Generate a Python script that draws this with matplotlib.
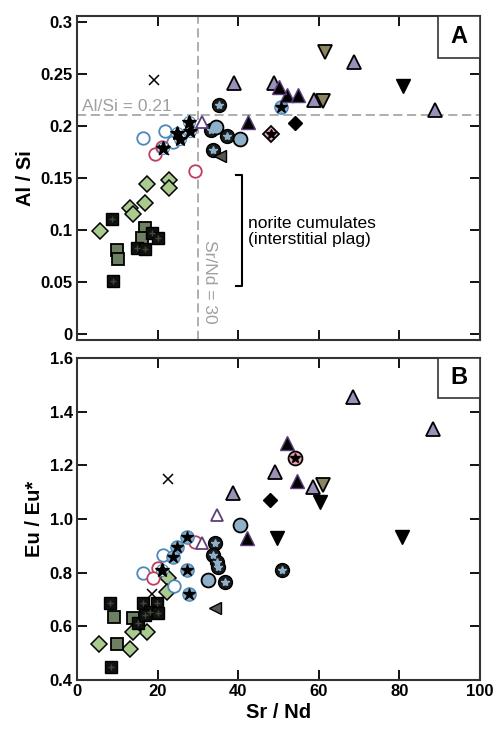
import matplotlib
matplotlib.use("Agg")
import matplotlib.pyplot as plt
from matplotlib.patches import Rectangle
from matplotlib.ticker import FixedLocator, FixedFormatter

plt.rcParams['font.family'] = ['Liberation Sans', 'DejaVu Sans']

# ---------------- Panel A data (Sr/Nd vs Al/Si) ----------------
A_blue_open_x = [16.4, 21.8, 23.8]
A_blue_open_y = [0.188, 0.195, 0.185]
A_red_open_x = [19.4, 21.0, 29.3]
A_red_open_y = [0.173, 0.180, 0.157]
A_cross_x = [19.1, 21.6]
A_cross_y = [0.244, 0.177]
A_black_star_x = [24.7, 25.6, 28.0, 27.9, 21.4]
A_black_star_y = [0.193, 0.187, 0.195, 0.204, 0.179]
A_blue_star_x = [50.5]
A_blue_star_y = [0.218]
A_dark_circle_x = [35.3, 33.2, 37.2, 33.8]
A_dark_circle_y = [0.220, 0.196, 0.190, 0.177]
A_lightblue_x = [40.4, 34.5]
A_lightblue_y = [0.187, 0.199]
A_purple_tri_x = [39.0, 48.9, 68.7, 58.8, 88.8]
A_purple_tri_y = [0.241, 0.241, 0.261, 0.225, 0.215]
A_purple_open_x = [31.0]
A_purple_open_y = [0.204]
A_black_tri_x = [42.5, 52.2, 54.9, 50.2]
A_black_tri_y = [0.204, 0.230, 0.230, 0.237]
A_olive_dtri_x = [61.5, 61.0]
A_olive_dtri_y = [0.271, 0.224]
A_black_dtri_x = [80.8]
A_black_dtri_y = [0.238]
A_green_dia_x = [17.3, 22.9, 22.9, 16.9, 13.2, 14.0, 5.7]
A_green_dia_y = [0.144, 0.148, 0.140, 0.126, 0.121, 0.115, 0.099]
A_dkgreen_sq_x = [9.9, 10.2, 16.9, 16.1]
A_dkgreen_sq_y = [0.081, 0.072, 0.102, 0.092]
A_black_sq_x = [8.7, 8.9, 18.6, 20.1, 14.8, 16.9]
A_black_sq_y = [0.111, 0.051, 0.0975, 0.092, 0.083, 0.082]
A_black_dia_x = [54.1]
A_black_dia_y = [0.203]
A_pink_dia_x = [48.1]
A_pink_dia_y = [0.192]
A_gray_ltri_x = [35.5]
A_gray_ltri_y = [0.171]

# ---------------- Panel B data (Sr/Nd vs Eu/Eu*) ----------------
B_blue_open_x = [21.4, 16.4, 24.1]
B_blue_open_y = [0.866, 0.800, 0.750]
B_red_open_x = [29.3, 20.1, 18.9]
B_red_open_y = [0.915, 0.817, 0.780]
B_cross_x = [22.5, 18.6]
B_cross_y = [1.149, 0.720]
B_black_star_x = [21.1]
B_black_star_y = [0.810]
B_blue_star_x = [27.3, 24.8, 23.8, 27.3, 27.8]
B_blue_star_y = [0.933, 0.896, 0.858, 0.810, 0.720]
B_dark_circle_x = [34.2, 33.7, 34.7, 35.0, 36.7, 50.9]
B_dark_circle_y = [0.910, 0.866, 0.840, 0.820, 0.766, 0.810]
B_lightblue_x = [40.4, 32.5]
B_lightblue_y = [0.978, 0.772]
B_purple_tri_x = [68.5, 88.4, 49.1, 58.6, 38.8]
B_purple_tri_y = [1.455, 1.335, 1.175, 1.120, 1.096]
B_purple_open_x = [34.7, 31.0]
B_purple_open_y = [1.015, 0.909]
B_black_tri_x = [52.1, 54.6, 42.1]
B_black_tri_y = [1.283, 1.142, 0.929]
B_olive_dtri_x = [61.0]
B_olive_dtri_y = [1.127]
B_black_dtri_x = [60.3, 49.6, 80.6]
B_black_dtri_y = [1.063, 0.929, 0.933]
B_green_dia_x = [22.6, 22.3, 17.3, 14.0, 13.2, 5.5]
B_green_dia_y = [0.780, 0.728, 0.579, 0.579, 0.515, 0.534]
B_dkgreen_sq_x = [9.2, 9.9, 13.9]
B_dkgreen_sq_y = [0.635, 0.534, 0.631]
B_black_sq_x = [8.2, 8.4, 16.4, 19.8, 18.1, 15.1, 16.9, 20.1]
B_black_sq_y = [0.687, 0.448, 0.687, 0.687, 0.653, 0.612, 0.642, 0.649]
B_black_dia_x = [47.9]
B_black_dia_y = [1.071]
B_pink_circle_x = [54.1]
B_pink_circle_y = [1.227]
B_gray_ltri_x = [34.2]
B_gray_ltri_y = [0.668]

# Axis settings
x_ticks = [0, 20, 40, 60, 80, 100]
x_labels = ['0', '20', '40', '60', '80', '100']
A_yticks = [0, 0.05, 0.1, 0.15, 0.2, 0.25, 0.3]
A_ylabels = ['0', '0.05', '0.1', '0.15', '0.2', '0.25', '0.3']
B_yticks = [0.4, 0.6, 0.8, 1.0, 1.2, 1.4, 1.6]
B_ylabels = ['0.4', '0.6', '0.8', '1.0', '1.2', '1.4', '1.6']
alsi_ref = 0.21
srnd_ref = 30

BLUE = '#4f88b8'
RED = '#c23c5c'
PURPLE = '#9d90b8'
PURPLE_E = '#5e3f7e'
OLIVE = '#8b8462'
GREEN = '#a9cc8e'
DKGREEN = '#6f8062'
LBLUE = '#8fb0c9'

fig = plt.figure(figsize=(4.95, 7.33), dpi=100)
axA = fig.add_axes([0.1556, 0.5362, 0.8141, 0.4420])
axB = fig.add_axes([0.1556, 0.0723, 0.8141, 0.4393])


def draw(ax, d):
    kw = dict(linestyle='none', zorder=3)
    ax.plot(d['green_dia'][0], d['green_dia'][1], marker='D', ms=8.5, mfc=GREEN, mec='black', mew=1.1, **kw)
    ax.plot(d['dkgreen_sq'][0], d['dkgreen_sq'][1], marker='s', ms=9, mfc=DKGREEN, mec='black', mew=1.3, **kw)
    ax.plot(d['black_sq'][0], d['black_sq'][1], marker='s', ms=9, mfc='#111111', mec='black', mew=1.0, **kw)
    ax.plot(d['black_sq'][0], d['black_sq'][1], marker='+', ms=5, mec='#3f4a36', mew=1.0, linestyle='none', zorder=4)
    ax.plot(d['blue_open'][0], d['blue_open'][1], marker='o', ms=9, mfc='white', mec=BLUE, mew=1.3, **kw)
    ax.plot(d['red_open'][0], d['red_open'][1], marker='o', ms=9, mfc='white', mec=RED, mew=1.3, **kw)
    ax.plot(d['blue_star'][0], d['blue_star'][1], marker='o', ms=9.5, mfc=LBLUE, mec=BLUE, mew=1.0, **kw)
    ax.plot(d['blue_star'][0], d['blue_star'][1], marker='*', ms=9, color='black', linestyle='none', zorder=4)
    ax.plot(d['black_star'][0], d['black_star'][1], marker='o', ms=8.5, mfc='white', mec=BLUE, mew=0.8, **kw)
    ax.plot(d['black_star'][0], d['black_star'][1], marker='*', ms=10.5, color='black', linestyle='none', zorder=4)
    ax.plot(d['dark_circle'][0], d['dark_circle'][1], marker='o', ms=10, mfc='#1a1a1a', mec='black', mew=1.0, **kw)
    ax.plot(d['dark_circle'][0], d['dark_circle'][1], marker='*', ms=6, color=LBLUE, linestyle='none', zorder=4)
    ax.plot(d['lightblue'][0], d['lightblue'][1], marker='o', ms=10, mfc=LBLUE, mec='black', mew=1.3, **kw)
    ax.plot(d['purple_open'][0], d['purple_open'][1], marker='^', ms=8.5, mfc='white', mec=PURPLE_E, mew=1.3, **kw)
    ax.plot(d['purple_tri'][0], d['purple_tri'][1], marker='^', ms=9.5, mfc=PURPLE, mec='black', mew=1.3, **kw)
    ax.plot(d['black_tri'][0], d['black_tri'][1], marker='^', ms=9.5, mfc='black', mec=PURPLE_E, mew=1.0, **kw)
    ax.plot(d['olive_dtri'][0], d['olive_dtri'][1], marker='v', ms=9.5, mfc=OLIVE, mec='black', mew=1.3, **kw)
    ax.plot(d['black_dtri'][0], d['black_dtri'][1], marker='v', ms=9.5, mfc='black', mec='black', mew=1.0, **kw)
    ax.plot(d['black_dia'][0], d['black_dia'][1], marker='D', ms=7.5, mfc='black', mec='black', mew=1.0, **kw)
    if 'pink_dia' in d:
        ax.plot(d['pink_dia'][0], d['pink_dia'][1], marker='D', ms=8, mfc='#e6a3b3', mec='black', mew=1.3, **kw)
        ax.plot(d['pink_dia'][0], d['pink_dia'][1], marker='*', ms=7, color='black', linestyle='none', zorder=4)
    if 'pink_circle' in d:
        ax.plot(d['pink_circle'][0], d['pink_circle'][1], marker='o', ms=10, mfc='#e6a3b3', mec='black', mew=1.3, **kw)
        ax.plot(d['pink_circle'][0], d['pink_circle'][1], marker='*', ms=7, color='black', linestyle='none', zorder=4)
    ax.plot(d['gray_ltri'][0], d['gray_ltri'][1], marker='<', ms=9, mfc='#555555', mec='black', mew=1.0, **kw)
    ax.plot(d['cross'][0], d['cross'][1], marker='x', ms=6.5, mec='black', mew=1.1, linestyle='none', zorder=5)


dataA = {
    'blue_open': (A_blue_open_x, A_blue_open_y), 'red_open': (A_red_open_x, A_red_open_y),
    'cross': (A_cross_x, A_cross_y), 'black_star': (A_black_star_x, A_black_star_y),
    'blue_star': (A_blue_star_x, A_blue_star_y), 'dark_circle': (A_dark_circle_x, A_dark_circle_y),
    'lightblue': (A_lightblue_x, A_lightblue_y), 'purple_tri': (A_purple_tri_x, A_purple_tri_y),
    'purple_open': (A_purple_open_x, A_purple_open_y), 'black_tri': (A_black_tri_x, A_black_tri_y),
    'olive_dtri': (A_olive_dtri_x, A_olive_dtri_y), 'black_dtri': (A_black_dtri_x, A_black_dtri_y),
    'green_dia': (A_green_dia_x, A_green_dia_y), 'dkgreen_sq': (A_dkgreen_sq_x, A_dkgreen_sq_y),
    'black_sq': (A_black_sq_x, A_black_sq_y), 'black_dia': (A_black_dia_x, A_black_dia_y),
    'pink_dia': (A_pink_dia_x, A_pink_dia_y), 'gray_ltri': (A_gray_ltri_x, A_gray_ltri_y),
}
dataB = {
    'blue_open': (B_blue_open_x, B_blue_open_y), 'red_open': (B_red_open_x, B_red_open_y),
    'cross': (B_cross_x, B_cross_y), 'black_star': (B_black_star_x, B_black_star_y),
    'blue_star': (B_blue_star_x, B_blue_star_y), 'dark_circle': (B_dark_circle_x, B_dark_circle_y),
    'lightblue': (B_lightblue_x, B_lightblue_y), 'purple_tri': (B_purple_tri_x, B_purple_tri_y),
    'purple_open': (B_purple_open_x, B_purple_open_y), 'black_tri': (B_black_tri_x, B_black_tri_y),
    'olive_dtri': (B_olive_dtri_x, B_olive_dtri_y), 'black_dtri': (B_black_dtri_x, B_black_dtri_y),
    'green_dia': (B_green_dia_x, B_green_dia_y), 'dkgreen_sq': (B_dkgreen_sq_x, B_dkgreen_sq_y),
    'black_sq': (B_black_sq_x, B_black_sq_y), 'black_dia': (B_black_dia_x, B_black_dia_y),
    'pink_circle': (B_pink_circle_x, B_pink_circle_y), 'gray_ltri': (B_gray_ltri_x, B_gray_ltri_y),
}

# Reference lines in A
axA.axhline(alsi_ref, color='#999999', lw=1.1, ls=(0, (6, 3)), zorder=1)
axA.axvline(srnd_ref, color='#999999', lw=1.1, ls=(0, (6, 3)), zorder=1)
axA.text(1.3, alsi_ref + 0.0015, 'Al/Si = 0.21', color='#a0a0a0', fontsize=12.5, ha='left', va='bottom')
axA.text(30.9, 0.090, 'Sr/Nd = 30', color='#a0a0a0', fontsize=12.5, rotation=270, ha='left', va='top')

# bracket
axA.plot([39.5, 40.9, 40.9, 39.5], [0.153, 0.153, 0.046, 0.046], color='black', lw=1.5, zorder=2)
axA.text(42.5, 0.099, 'norite cumulates\n(interstitial plag)', fontsize=12.5, ha='left', va='center',
         linespacing=1.1)

draw(axA, dataA)
draw(axB, dataB)

for ax, yt, yl, lim, letter in [(axA, A_yticks, A_ylabels, (-0.0055, 0.3055), 'A'),
                                 (axB, B_yticks, B_ylabels, (0.4, 1.6), 'B')]:
    ax.set_xlim(0, 100)
    ax.set_ylim(*lim)
    ax.xaxis.set_major_locator(FixedLocator(x_ticks))
    ax.yaxis.set_major_locator(FixedLocator(yt))
    ax.yaxis.set_major_formatter(FixedFormatter(yl))
    ax.tick_params(direction='in', length=7, width=1.3, top=True, right=True,
                   labelsize=12, pad=3)
    for lab in ax.get_yticklabels() + ax.get_xticklabels():
        lab.set_fontweight('bold')
    for s in ax.spines.values():
        s.set_linewidth(1.5)
        s.set_color('#333333')
    hb = 42 / 324 if letter == 'A' else 40 / 322
    ax.add_patch(Rectangle((0.896, 1 - hb), 0.104, hb,
                           transform=ax.transAxes, facecolor='white', edgecolor='#333333',
                           lw=1.2, zorder=6, clip_on=False))
    ax.text(0.948, 1 - hb / 2, letter, transform=ax.transAxes,
            ha='center', va='center', fontsize=17, fontweight='bold', zorder=7)

axA.set_xticklabels([])
axB.xaxis.set_major_formatter(FixedFormatter(x_labels))
for lab in axB.get_xticklabels():
    lab.set_fontweight('bold')

axA.set_ylabel('Al / Si', fontsize=14.5, fontweight='bold', labelpad=4)
axB.set_ylabel('Eu / Eu*', fontsize=14.5, fontweight='bold', labelpad=4)
axB.set_xlabel('Sr / Nd', fontsize=14.5, fontweight='bold', labelpad=3)

fig.savefig('out.png', dpi=100)
